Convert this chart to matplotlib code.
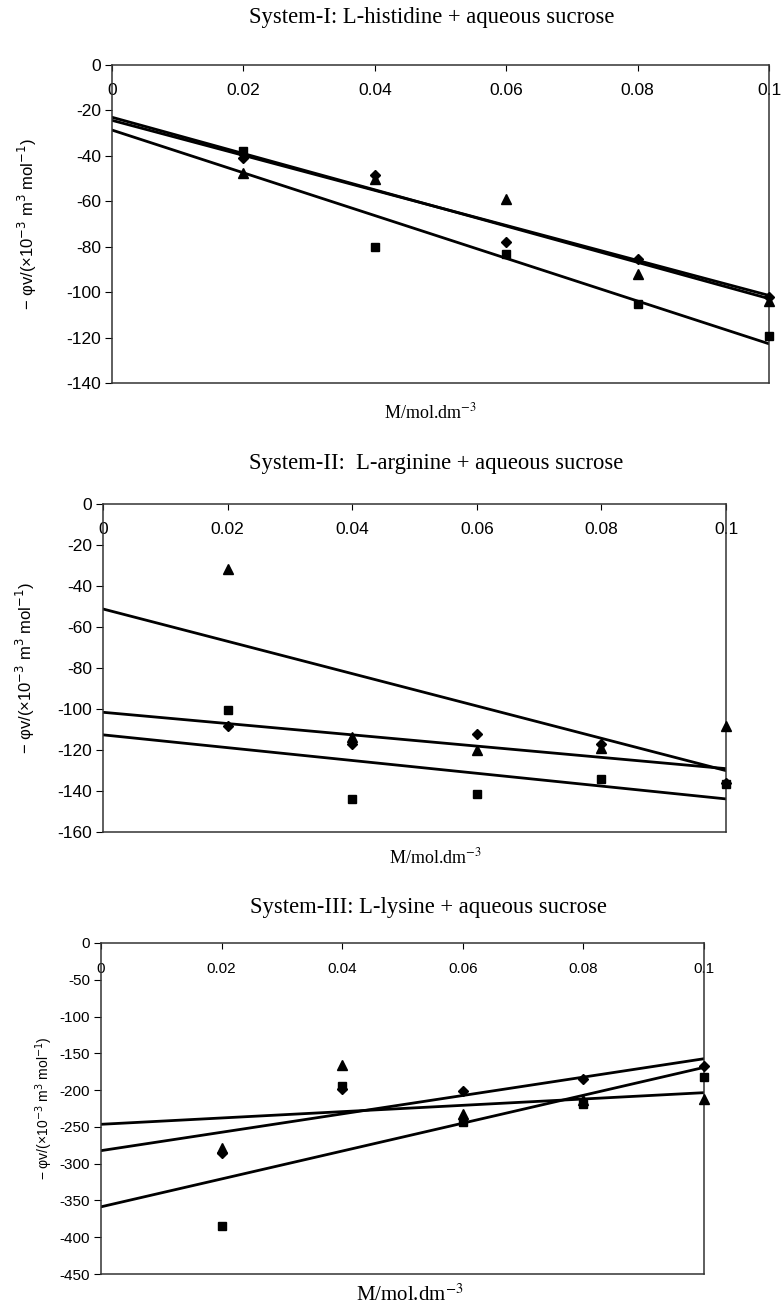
import numpy as np
import matplotlib
matplotlib.use('Agg')
import matplotlib.pyplot as plt

plt.rcParams['axes.unicode_minus'] = False

# concentrations, M/mol.dm^-3
conc = [0.02, 0.04, 0.06, 0.08, 0.10]

# System-I: L-histidine + aqueous sucrose
sys1_square = [-37.7, -80.3, -83.0, -105.1, -119.4]
sys1_diamond = [-40.8, -48.5, -77.8, -85.2, -102.3]
sys1_triangle = [-47.7, -50.2, -59.2, -92.2, -103.8]

# System-II: L-arginine + aqueous sucrose
sys2_square = [-100.3, -144.1, -141.7, -134.2, -136.5]
sys2_diamond = [-108.5, -116.9, -112.2, -116.9, -136.0]
sys2_triangle = [-31.9, -113.7, -119.9, -119.0, -108.1]

# System-III: L-lysine + aqueous sucrose
sys3_square = [-384.5, -194.5, -244.0, -219.0, -182.7]
sys3_diamond = [-285.0, -199.0, -200.8, -184.5, -167.3]
sys3_triangle = [-279.0, -166.0, -232.9, -213.0, -212.5]

xticks = [0, 0.02, 0.04, 0.06, 0.08, 0.1]
xtick_labels = ['0', '0.02', '0.04', '0.06', '0.08', '0.1']

titles = ['System-I: L-histidine + aqueous sucrose',
          'System-II:  L-arginine + aqueous sucrose',
          'System-III: L-lysine + aqueous sucrose']

ylabel = '− φv/(×10$^{-3}$ m$^3$ mol$^{-1}$)'
xlabel = 'M/mol.dm$^{-3}$'

W, H = 781, 1310
fig = plt.figure(figsize=(W / 100, H / 100), dpi=100)


def frac(left, right, top, bottom):
    return [left / W, 1 - bottom / H, (right - left) / W, (bottom - top) / H]


def panel(rect, series, ymin, ystep, title, title_xy, xlab_xy, ylab_x,
          tick_fs=12.5, ylab_fs=12, xlab_fs=13):
    ax = fig.add_axes(rect)
    ax.set_xlim(0, 0.1)
    ax.set_ylim(ymin, 0)
    for vals, mk, ms in series:
        ax.plot(conc, vals, mk, color='black', markersize=ms,
                linestyle='none', clip_on=False, zorder=3)
        # linear trendline of each series
        k, b = np.polyfit(conc, vals, 1)
        xx = np.array([0, 0.1])
        ax.plot(xx, k * xx + b, color='black', lw=2.0, zorder=2)
    ax.set_yticks(np.arange(ymin, 0.1, ystep))
    ax.set_xticks(xticks)
    ax.set_xticklabels(xtick_labels)
    ax.tick_params(axis='x', top=True, bottom=False, labeltop=True,
                   labelbottom=False, direction='in', length=4, pad=-24,
                   labelsize=tick_fs)
    ax.tick_params(axis='y', direction='out', length=5, pad=3,
                   labelsize=tick_fs)
    for lab in ax.get_xticklabels() + ax.get_yticklabels():
        lab.set_family('Liberation Sans')
    for sp in ax.spines.values():
        sp.set_linewidth(1.1)
        sp.set_color('#333333')
    fig.text(title_xy[0] / W, 1 - title_xy[1] / H, title,
             family='Liberation Serif', fontsize=16.3, ha='center', va='center')
    fig.text(xlab_xy[0] / W, 1 - xlab_xy[1] / H, xlabel,
             family='Liberation Serif', fontsize=xlab_fs, ha='center', va='center',
             math_fontfamily='stix')
    fig.text(ylab_x / W, rect[1] + rect[3] / 2, ylabel,
             family=['Liberation Sans', 'DejaVu Sans'], fontsize=ylab_fs,
             rotation=90, ha='center', va='center')
    return ax


s1 = [(sys1_square, 's', 6), (sys1_diamond, 'D', 5.5), (sys1_triangle, '^', 7)]
s2 = [(sys2_square, 's', 6), (sys2_diamond, 'D', 5.5), (sys2_triangle, '^', 7)]
s3 = [(sys3_square, 's', 6), (sys3_diamond, 'D', 5.5), (sys3_triangle, '^', 7)]

panel(frac(112, 769, 65, 383), s1, -140, 20, titles[0], (432, 18), (430, 412), 27)
panel(frac(103, 726, 504, 832), s2, -160, 20, titles[1], (436, 463), (435, 857), 25)
panel(frac(101, 704, 943, 1274), s3, -450, 50, titles[2], (428, 907), (410, 1295), 44,
      tick_fs=11, ylab_fs=10, xlab_fs=15)

fig.savefig('out.png', dpi=100)
